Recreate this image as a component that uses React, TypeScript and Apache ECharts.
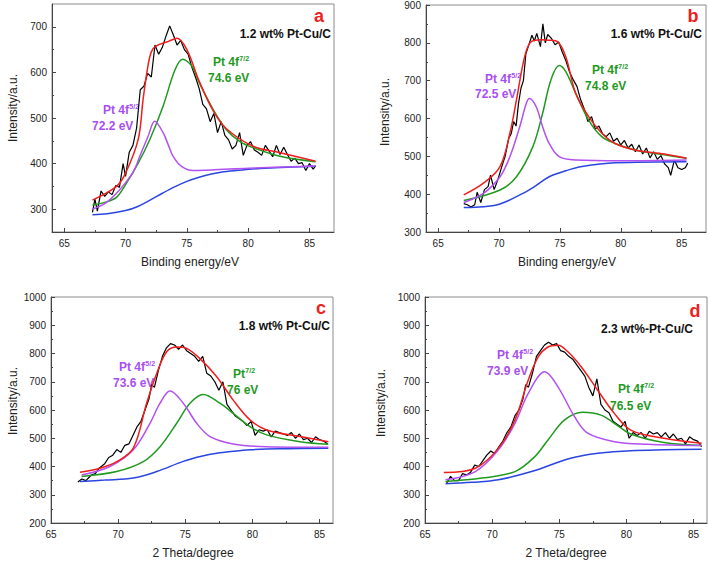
import React, { useEffect, useRef } from 'react';
import * as echarts from 'echarts';

// ---------- tick labels ----------
const xMajorTicks = [65, 70, 75, 80, 85];
const xMinorTicks = [67.5, 72.5, 77.5, 82.5];
const aYTicks = [300, 400, 500, 600, 700];
const aYMinor = [350, 450, 550, 650];
const bYTicks = [300, 400, 500, 600, 700, 800, 900];
const bYMinor = [350, 450, 550, 650, 750, 850];
const cdYTicks = [200, 300, 400, 500, 600, 700, 800, 900, 1000];
const cdYMinor = [250, 350, 450, 550, 650, 750, 850, 950];

// ---------- panel a : 1.2 wt% Pt-Cu/C ----------
const aRaw = [[67.3,293],[67.5,322],[67.7,296],[68.0,340],[68.3,328],[68.6,338],[68.9,332],[69.2,352],[69.5,348],[69.8,400],[70.0,372],[70.3,425],[70.6,440],[70.9,478],[71.2,562],[71.5,570],[71.8,598],[72.1,590],[72.4,660],[72.7,640],[73.0,655],[73.3,680],[73.6,702],[73.9,682],[74.2,660],[74.5,670],[74.8,650],[75.1,640],[75.4,612],[75.7,590],[76.0,565],[76.3,530],[76.6,520],[76.9,492],[77.2,510],[77.5,468],[77.8,492],[78.1,462],[78.4,452],[78.7,432],[79.0,440],[79.3,468],[79.6,418],[79.9,440],[80.2,448],[80.5,430],[80.8,425],[81.1,418],[81.4,440],[81.7,428],[82.0,415],[82.3,440],[82.6,420],[82.9,436],[83.2,420],[83.5,405],[83.8,412],[84.1,400],[84.4,402],[84.7,385],[85.0,400],[85.3,388],[85.5,395]];
const aBlue = [[67.3,288],[68.5,290],[70.0,297],[71.0,306],[72.0,320],[73.0,335],[74.0,349],[75.0,361],[76.0,370],[77.0,377],[78.0,382],[79.5,386],[81.4,390],[85.5,394]];
const aMagenta = [[67.3,300],[68.3,312],[69.26,335],[70.08,361],[70.7,385],[71.16,416],[71.84,460],[72.38,493],[73.06,468],[73.5,440],[73.88,416],[74.56,394],[75.5,385],[77.0,386],[80.0,390],[85.5,395]];
const aGreen = [[67.3,309],[68.3,315],[69.26,326],[70.0,354],[71.03,401],[71.98,453],[73.06,526],[74.01,604],[74.64,629],[75.37,615],[76.0,578],[77.14,519],[78.2,475],[79.3,449],[80.4,435],[82.6,416],[85.5,404]];
const aRed = [[67.3,320],[69.26,350],[70.0,379],[71.03,453],[71.43,541],[71.8,610],[72.1,645],[72.5,658],[73.5,668],[74.2,675],[75.0,650],[76.0,581],[77.14,516],[78.2,477],[80.4,438],[82.6,424],[85.5,405]];

// ---------- panel b : 1.6 wt% Pt-Cu/C ----------
const bRaw = [[67.1,375],[67.4,372],[67.7,366],[68.0,372],[68.2,405],[68.5,378],[68.8,412],[69.1,420],[69.3,450],[69.6,412],[69.9,438],[70.2,470],[70.5,500],[70.8,548],[71.0,560],[71.2,592],[71.4,580],[71.6,640],[71.8,680],[72.0,700],[72.2,770],[72.5,800],[72.7,820],[72.9,805],[73.1,825],[73.4,790],[73.6,850],[73.8,800],[74.0,822],[74.3,812],[74.6,795],[74.9,802],[75.2,775],[75.5,752],[75.8,722],[76.1,702],[76.4,685],[76.7,650],[77.0,625],[77.3,592],[77.6,605],[77.9,572],[78.2,580],[78.5,560],[78.8,552],[79.1,562],[79.4,540],[79.7,548],[80.0,530],[80.3,542],[80.6,522],[80.9,532],[81.2,512],[81.5,530],[81.8,506],[82.1,522],[82.4,496],[82.7,512],[83.0,492],[83.3,502],[83.6,480],[83.9,470],[84.1,450],[84.4,490],[84.7,470],[85.0,465],[85.3,470],[85.5,482]];
const bBlue = [[67.1,365],[68.7,367],[70.08,374],[71.96,402],[73.0,422],[74.12,446],[75.5,462],[76.82,473],[79.53,483],[85.4,486]];
const bMagenta = [[67.1,378],[68.72,402],[70.08,446],[70.89,499],[71.7,578],[72.24,640],[72.5,653],[73.05,631],[73.58,578],[74.12,534],[74.94,499],[76.29,490],[80.0,488],[85.4,490]];
const bGreen = [[67.1,383],[70.08,411],[71.43,446],[72.77,525],[73.58,614],[74.26,702],[74.94,740],[75.48,724],[76.29,667],[77.36,596],[78.44,552],[79.53,534],[81.15,517],[83.57,504],[85.4,495]];
const bRed = [[67.1,398],[68.72,429],[70.08,473],[70.89,561],[71.43,649],[72.1,763],[72.64,803],[73.5,808],[74.12,807],[74.8,803],[75.48,763],[76.29,667],[77.36,605],[78.44,561],[79.53,534],[81.15,517],[83.57,506],[85.4,495]];

// ---------- panel c : 1.8 wt% Pt-Cu/C ----------
const cRaw = [[67.0,345],[67.3,356],[67.6,350],[68.0,370],[68.3,375],[68.6,395],[69.0,410],[69.3,432],[69.6,440],[69.9,460],[70.2,450],[70.5,475],[70.8,480],[71.1,510],[71.4,540],[71.7,560],[72.0,600],[72.3,640],[72.5,690],[72.7,680],[73.0,740],[73.3,790],[73.6,820],[73.9,835],[74.2,830],[74.5,815],[74.8,830],[75.1,810],[75.4,800],[75.7,790],[76.0,772],[76.3,790],[76.6,730],[76.9,720],[77.2,700],[77.5,670],[77.8,700],[78.1,620],[78.4,600],[78.7,580],[79.0,570],[79.3,560],[79.6,545],[79.9,560],[80.2,510],[80.5,530],[80.8,525],[81.1,530],[81.4,505],[81.7,525],[82.0,520],[82.3,515],[82.6,510],[82.9,520],[83.2,500],[83.5,515],[83.8,495],[84.1,500],[84.4,485],[84.7,505],[85.0,495],[85.3,490],[85.6,480]];
const cBlue = [[67.16,347],[69.0,352],[71.13,359],[72.87,382],[74.85,418],[76.2,436],[77.34,447],[78.6,454],[79.82,459],[82.0,463],[85.65,465]];
const cMagenta = [[67.28,370],[69.39,400],[71.13,459],[72.37,553],[73.12,624],[73.86,667],[74.85,624],[75.85,553],[76.84,506],[78.57,480],[81.06,470],[85.65,468]];
const cGreen = [[67.28,365],[69.89,382],[71.87,417],[73.12,470],[74.36,553],[75.35,624],[76.34,655],[77.58,624],[78.57,588],[79.82,541],[81.06,512],[83.54,488],[85.65,479]];
const cRed = [[67.16,380],[68.65,394],[69.89,417],[71.13,465],[72.12,624],[72.87,729],[73.61,806],[74.36,823],[75.1,818],[76.09,782],[77.34,718],[78.57,635],[79.82,565],[81.06,529],[83.54,506],[85.65,488]];

// ---------- panel d : 2.3 wt%-Pt-Cu/C ----------
const dRaw = [[66.6,340],[66.9,365],[67.2,350],[67.5,350],[67.8,375],[68.1,370],[68.4,380],[68.7,405],[69.0,400],[69.3,420],[69.6,440],[69.9,455],[70.2,445],[70.5,470],[70.8,490],[71.1,520],[71.4,540],[71.7,580],[72.0,600],[72.3,640],[72.5,690],[72.7,680],[73.0,730],[73.3,790],[73.6,810],[73.9,830],[74.2,840],[74.5,830],[74.8,835],[75.1,810],[75.4,805],[75.7,790],[76.0,780],[76.3,760],[76.6,740],[76.9,720],[77.2,680],[77.5,650],[77.8,710],[78.1,620],[78.4,600],[78.7,590],[79.0,560],[79.3,550],[79.6,540],[79.9,560],[80.2,500],[80.5,520],[80.8,510],[81.1,520],[81.4,500],[81.7,525],[82.0,515],[82.3,520],[82.6,505],[82.9,520],[83.2,500],[83.5,515],[83.8,495],[84.1,500],[84.4,480],[84.7,505],[85.0,495],[85.3,490],[85.6,470]];
const dBlue = [[66.53,339],[68.5,344],[70.47,353],[72.93,382],[75.4,423],[76.6,437],[77.86,447],[80.32,456],[82.8,459],[85.6,461]];
const dMagenta = [[66.53,353],[68.75,382],[70.47,459],[71.7,553],[72.69,659],[73.92,735],[74.9,682],[76.14,576],[77.12,518],[79.1,488],[81.56,479],[85.6,474]];
const dGreen = [[66.53,347],[69.24,359],[71.7,382],[73.18,435],[74.16,494],[75.4,565],[76.75,592],[78.1,582],[79.1,553],[80.32,515],[82.79,485],[85.6,474]];
const dRed = [[66.4,379],[68.75,394],[70.47,465],[71.7,565],[72.69,706],[73.43,788],[74.16,823],[74.9,829],[75.64,806],[76.63,753],[77.86,670],[79.1,588],[80.32,529],[82.79,500],[85.6,482]];

const FONT = "'Liberation Sans', Arial, Helvetica, sans-serif";
const C_BLACK = '#000000';
const C_BLUE = '#2b45e0';
const C_MAG = '#b251f0';
const C_GREEN = '#1f9a1f';
const C_RED = '#f01e1e';
const C_TXT_MAG = '#a84ff0';
const C_TXT_GREEN = '#1f9a1f';

const panels = [
  { grid: { left: 52, top: 4, width: 282, height: 228 }, xMin: 64, xMax: 87, yMin: 250, yMax: 750, yTicks: aYTicks, yMinor: aYMinor,
    raw: aRaw, blue: aBlue, mag: aMagenta, green: aGreen, red: aRed },
  { grid: { left: 426, top: 5, width: 280, height: 227 }, xMin: 64, xMax: 87, yMin: 300, yMax: 900, yTicks: bYTicks, yMinor: bYMinor,
    raw: bRaw, blue: bBlue, mag: bMagenta, green: bGreen, red: bRed },
  { grid: { left: 51, top: 297, width: 282, height: 226 }, xMin: 65, xMax: 86, yMin: 200, yMax: 1000, yTicks: cdYTicks, yMinor: cdYMinor,
    raw: cRaw, blue: cBlue, mag: cMagenta, green: cGreen, red: cRed },
  { grid: { left: 425, top: 297, width: 282, height: 226 }, xMin: 65, xMax: 86, yMin: 200, yMax: 1000, yTicks: cdYTicks, yMinor: cdYMinor,
    raw: dRaw, blue: dBlue, mag: dMagenta, green: dGreen, red: dRed },
];

// width of the bold 12px base text (Arial metrics) to place the superscript after it
const BASE_W: Record<string, number> = { 'Pt 4f': 26.3, 'Pt': 12.3 };

function supText(x: number, y: number, base: string, sup: string, color: string) {
  return [
    {
      type: 'text', x, y,
      style: { text: base, fill: color, font: `bold 12px ${FONT}`, textAlign: 'left', textVerticalAlign: 'middle' },
    },
    {
      type: 'text', x: x + BASE_W[base], y: y - 4,
      style: { text: sup, fill: color, font: `bold 7px ${FONT}`, textAlign: 'left', textVerticalAlign: 'middle' },
    },
  ];
}

function plainText(x: number, y: number, text: string, color: string, size: number, align: string, weight = 'bold') {
  return {
    type: 'text', x, y,
    style: { text, fill: color, font: `${weight} ${size}px ${FONT}`, textAlign: align, textVerticalAlign: 'middle' },
  };
}

function axisTitle(x: number, y: number, text: string, vertical: boolean) {
  return {
    type: 'text', x, y, rotation: vertical ? Math.PI / 2 : 0,
    style: { text, fill: '#222', font: `12px ${FONT}`, textAlign: 'center', textVerticalAlign: 'middle' },
  };
}

function buildOption() {
  const grid: any[] = [];
  const xAxis: any[] = [];
  const yAxis: any[] = [];
  const series: any[] = [];
  const fmt = (v: number) => String(v);
  panels.forEach((p, i) => {
    grid.push({ ...p.grid, show: true, borderColor: '#8c8c8c', borderWidth: 1, backgroundColor: 'transparent' });
    xAxis.push({
      type: 'value', gridIndex: i, min: p.xMin, max: p.xMax, position: 'bottom',
      axisLine: { show: true, onZero: false, lineStyle: { color: '#444', width: 1 } },
      axisTick: { show: true, inside: true, length: 4, customValues: xMajorTicks, lineStyle: { color: '#444' } },
      axisLabel: { customValues: xMajorTicks, formatter: fmt, fontSize: 10, color: '#222', fontFamily: FONT, margin: 6 },
      splitLine: { show: false },
    });
    xAxis.push({
      type: 'value', gridIndex: i, min: p.xMin, max: p.xMax, position: 'bottom',
      axisLine: { show: false, onZero: false },
      axisTick: { show: true, inside: true, length: 2, customValues: xMinorTicks, lineStyle: { color: '#444' } },
      axisLabel: { show: false },
      splitLine: { show: false },
    });
    yAxis.push({
      type: 'value', gridIndex: i, min: p.yMin, max: p.yMax, position: 'left',
      axisLine: { show: true, onZero: false, lineStyle: { color: '#444', width: 1 } },
      axisTick: { show: true, inside: true, length: 4, customValues: p.yTicks, lineStyle: { color: '#444' } },
      axisLabel: { customValues: p.yTicks, formatter: fmt, fontSize: 10, color: '#222', fontFamily: FONT, margin: 5 },
      splitLine: { show: false },
    });
    yAxis.push({
      type: 'value', gridIndex: i, min: p.yMin, max: p.yMax, position: 'left',
      axisLine: { show: false, onZero: false },
      axisTick: { show: true, inside: true, length: 2, customValues: p.yMinor, lineStyle: { color: '#444' } },
      axisLabel: { show: false },
      splitLine: { show: false },
    });
    const common = { type: 'line', xAxisIndex: 2 * i, yAxisIndex: 2 * i, symbol: 'none', silent: true };
    const sm = { smooth: 0.35 };
    series.push({ ...common, name: `raw${i}`, data: p.raw, lineStyle: { color: C_BLACK, width: 1.2 } });
    series.push({ ...common, ...sm, name: `bg${i}`, data: p.blue, lineStyle: { color: C_BLUE, width: 1.5 } });
    series.push({ ...common, ...sm, name: `g${i}`, data: p.green, lineStyle: { color: C_GREEN, width: 1.5 } });
    series.push({ ...common, ...sm, name: `m${i}`, data: p.mag, lineStyle: { color: C_MAG, width: 1.5 } });
    series.push({ ...common, ...sm, name: `fit${i}`, data: p.red, lineStyle: { color: C_RED, width: 1.5 } });
  });

  const graphic: any[] = [
    // panel a
    plainText(319, 16, 'a', C_RED, 18, 'center'),
    plainText(331, 34, '1.2 wt% Pt-Cu/C', '#111', 12, 'right'),
    ...supText(213, 62, 'Pt 4f', '7/2', C_TXT_GREEN),
    plainText(208, 78, '74.6 eV', C_TXT_GREEN, 12, 'left'),
    ...supText(103, 110, 'Pt 4f', '5/2', C_TXT_MAG),
    plainText(92, 126, '72.2 eV', C_TXT_MAG, 12, 'left'),
    axisTitle(13, 108, 'Intensity/a.u.', true),
    axisTitle(190, 262, 'Binding energy/eV', false),
    // panel b
    plainText(693, 16, 'b', C_RED, 18, 'center'),
    plainText(702, 34, '1.6 wt% Pt-Cu/C', '#111', 12, 'right'),
    ...supText(485, 79, 'Pt 4f', '5/2', C_TXT_MAG),
    plainText(475, 94, '72.5 eV', C_TXT_MAG, 12, 'left'),
    ...supText(592, 70, 'Pt 4f', '7/2', C_TXT_GREEN),
    plainText(585, 86, '74.8 eV', C_TXT_GREEN, 12, 'left'),
    axisTitle(385, 112, 'Intensity/a.u.', true),
    axisTitle(567, 262, 'Binding energy/eV', false),
    // panel c
    plainText(321, 308, 'c', C_RED, 18, 'center'),
    plainText(330, 326, '1.8 wt% Pt-Cu/C', '#111', 12, 'right'),
    ...supText(119, 367, 'Pt 4f', '5/2', C_TXT_MAG),
    plainText(113, 383, '73.6 eV', C_TXT_MAG, 12, 'left'),
    ...supText(233, 374, 'Pt', '7/2', C_TXT_GREEN),
    plainText(227, 390, '76 eV', C_TXT_GREEN, 12, 'left'),
    axisTitle(13, 401, 'Intensity/a.u.', true),
    axisTitle(193, 553, '2 Theta/degree', false),
    // panel d
    plainText(695, 311, 'd', C_RED, 18, 'center'),
    plainText(693, 329, '2.3 wt%-Pt-Cu/C', '#111', 12, 'right'),
    ...supText(497, 355, 'Pt 4f', '5/2', C_TXT_MAG),
    plainText(487, 371, '73.9 eV', C_TXT_MAG, 12, 'left'),
    ...supText(618, 389, 'Pt 4f', '7/2', C_TXT_GREEN),
    plainText(610, 406, '76.5 eV', C_TXT_GREEN, 12, 'left'),
    axisTitle(381, 403, 'Intensity/a.u.', true),
    axisTitle(566, 553, '2 Theta/degree', false),
  ];

  return {
    animation: false,
    backgroundColor: '#ffffff',
    grid, xAxis, yAxis, series, graphic,
  };
}

export default function App() {
  const ref = useRef<HTMLDivElement>(null);
  useEffect(() => {
    if (!ref.current) return;
    const chart = echarts.init(ref.current, null, { renderer: 'svg' });
    chart.setOption(buildOption() as any);
    return () => chart.dispose();
  }, []);
  return (
    <div
      ref={ref}
      style={{ position: 'fixed', left: 0, top: 0, width: 709, height: 561, background: '#ffffff' }}
    />
  );
}
